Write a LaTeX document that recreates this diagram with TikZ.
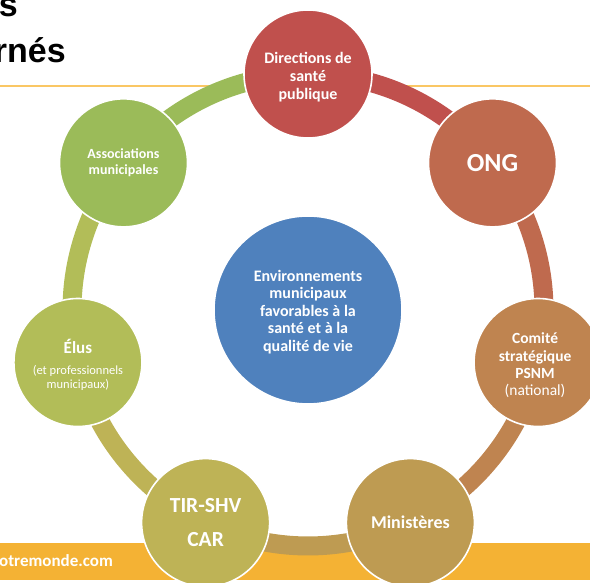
\documentclass[tikz,border=0pt]{standalone}
\usepackage{fontspec}
\setmainfont{Carlito}
\newfontfamily\arialfont{Liberation Sans}
\usetikzlibrary{backgrounds}
\definecolor{cDSP}{RGB}{192,80,77}
\definecolor{cONG}{RGB}{191,106,78}
\definecolor{cCOM}{RGB}{191,132,80}
\definecolor{cMIN}{RGB}{190,155,82}
\definecolor{cTIR}{RGB}{190,179,86}
\definecolor{cELU}{RGB}{178,189,88}
\definecolor{cASSO}{RGB}{155,187,89}
\definecolor{cHUB}{RGB}{79,129,189}
\definecolor{bandc}{RGB}{244,178,52}
\definecolor{rulec}{RGB}{250,199,100}
\newcommand{\fs}[2]{\fontsize{#1}{#2}\selectfont}
\begin{document}
\begin{tikzpicture}[x=1pt,y=1pt,
  bub/.style={circle, draw=white, line width=1.6pt, minimum size=128pt, inner sep=0pt, fill=#1},
  lbl/.style={text=white, align=center, inner sep=0pt},
  seg/.style={draw=#1, line width=19pt},
]
\useasboundingbox (0,0) rectangle (590,583);
\coordinate (c) at (308,273);
% outer circles
\node[bub=cDSP]  (dsp)  at ([shift={(90:236)}]c) {};
\node[bub=cONG]  (ong)  at ([shift={(38.571:236)}]c) {};
\node[bub=cCOM]  (com)  at ([shift={(-12.857:236)}]c) {};
\node[bub=cMIN]  (min)  at ([shift={(-64.286:236)}]c) {};
\node[bub=cTIR]  (tir)  at ([shift={(-115.714:236)}]c) {};
\node[bub=cELU]  (elu)  at ([shift={(-167.143:236)}]c) {};
\node[bub=cASSO] (asso) at ([shift={(141.429:236)}]c) {};
\node[circle, draw=white, line width=1.6pt, fill=cHUB, minimum size=188pt, inner sep=0pt] (hub) at (c) {};
% labels
\node[lbl, font=\bfseries\fs{16}{17.8}] at ([yshift=-3pt]dsp.center) {Directions de\\santé\\publique};
\node[lbl, font=\bfseries\fs{26}{30}] at (ong.center) {ONG};
\node[lbl, font=\bfseries\fs{15.5}{17.3}] at ([xshift=-3pt,yshift=-3pt]com.center) {Comité\\stratégique\\PSNM\\{\mdseries(national)}};
\node[lbl, font=\bfseries\fs{18}{21}] at (min.center) {Ministères};
\node[lbl, font=\bfseries\fs{21.5}{25}] at (tir.center) {TIR-SHV\\[9pt]CAR};
\node[lbl, font=\bfseries\fs{17}{19.5}] at ([yshift=-2pt]elu.center) {Élus\\[1.5pt]{\mdseries\fs{12.5}{14}(et professionnels}\\[-5.5pt]{\mdseries\fs{12.5}{14}municipaux)}};
\node[lbl, font=\bfseries\fs{14}{15.8}] at (asso.center) {Associations\\municipales};
\node[lbl, font=\bfseries\fs{16}{17.6}] at ([yshift=-2pt]hub.center) {Environnements\\municipaux\\favorables à la\\santé et à la\\qualité de vie};
% title fragments and footer text
\node[anchor=base east, inner sep=0pt, font=\arialfont\bfseries\fontsize{34}{40}\selectfont] (t1) at (18,566) {s};
\node[anchor=base east, inner sep=0pt, font=\arialfont\bfseries\fontsize{34}{40}\selectfont] (t2) at (66,520) {rnés};
\node[anchor=base west, inner sep=0pt, text=white, font=\bfseries\fs{17}{20}] (web) at (-1,16) {otremonde.com};
\begin{pgfonlayer}{background}
\fill[bandc] (0,3) rectangle (590,40);
\draw[rulec, line width=1.4pt] (0,497) -- (590,497);
\draw[seg=cDSP]  (dsp.center)  arc[start angle=90, end angle=38.571, radius=236];
\draw[seg=cONG]  (ong.center)  arc[start angle=38.571, end angle=-12.857, radius=236];
\draw[seg=cCOM]  (com.center)  arc[start angle=-12.857, end angle=-64.286, radius=236];
\draw[seg=cMIN]  (min.center)  arc[start angle=-64.286, end angle=-115.714, radius=236];
\draw[seg=cTIR]  (tir.center)  arc[start angle=-115.714, end angle=-167.143, radius=236];
\draw[seg=cELU]  (elu.center)  arc[start angle=-167.143, end angle=-218.571, radius=236];
\draw[seg=cASSO] (asso.center) arc[start angle=141.429, end angle=90, radius=236];
\end{pgfonlayer}
\end{tikzpicture}
\end{document}
